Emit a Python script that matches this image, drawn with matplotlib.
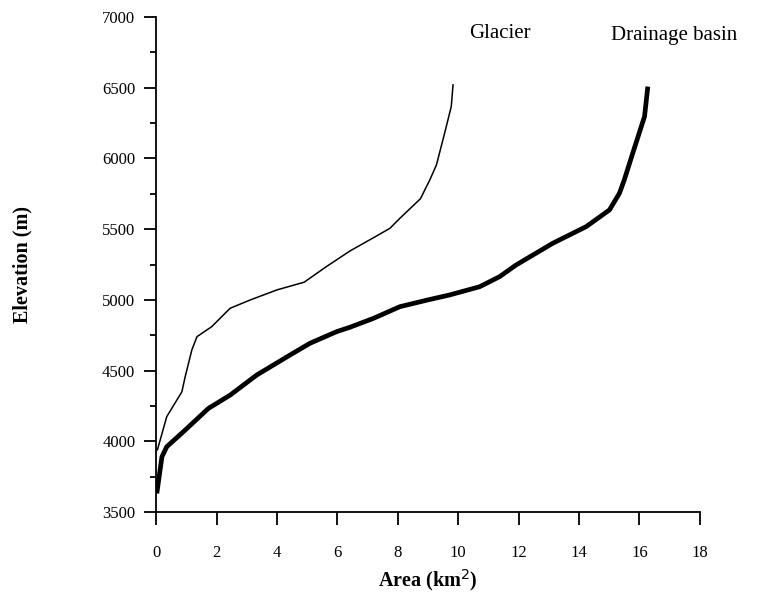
import matplotlib
matplotlib.use("Agg")
import matplotlib.pyplot as plt
from matplotlib.ticker import MultipleLocator

# hypsometric curves
glacier_area = [0.04, 0.35, 0.85, 0.96, 1.18, 1.35, 1.84, 2.45, 3.11, 3.99, 4.9,
                5.6, 6.41, 7.2, 7.74, 8.07, 8.75, 9.06, 9.28, 9.55, 9.77, 9.83]
glacier_elev = [3940, 4175, 4350, 4457, 4646, 4740, 4811, 4941, 4999, 5070, 5125,
                5230, 5345, 5440, 5506, 5577, 5715, 5848, 5954, 6178, 6366, 6520]

basin_area = [0.02, 0.19, 0.35, 0.9, 1.73, 2.45, 3.33, 4.43, 5.09, 5.97, 6.41,
              7.2, 8.07, 9.0, 9.72, 10.71, 11.37, 11.92, 13.13, 14.24, 15.01,
              15.34, 15.5, 15.78, 16.17, 16.28]
basin_elev = [3632, 3891, 3962, 4068, 4233, 4327, 4469, 4610, 4693, 4775, 4806,
              4870, 4952, 5000, 5035, 5093, 5164, 5247, 5400, 5518, 5636,
              5754, 5848, 6037, 6296, 6508]

plt.rcParams['font.family'] = ['Liberation Serif', 'DejaVu Serif']

fig = plt.figure(figsize=(7.81, 6.06), dpi=100)
ax = fig.add_axes([0.2, 0.155, 0.696, 0.817])

ax.plot(glacier_area, glacier_elev, color='black', lw=1.1)
ax.plot(basin_area, basin_elev, color='black', lw=3.4, solid_capstyle='butt')

ax.text(10.35, 6880, 'Glacier', fontsize=15, va='center', ha='left')
ax.text(15.05, 6870, 'Drainage basin', fontsize=15, va='center', ha='left')

ax.set_xlim(0, 18)
ax.set_ylim(3500, 7000)
ax.xaxis.set_major_locator(MultipleLocator(2))
ax.yaxis.set_major_locator(MultipleLocator(500))
ax.yaxis.set_minor_locator(MultipleLocator(250))

for s in ['top', 'right']:
    ax.spines[s].set_visible(False)
for s in ['left', 'bottom']:
    ax.spines[s].set_linewidth(1.3)

ax.tick_params(axis='both', which='major', direction='out', length=9, width=1.3,
               labelsize=12)
ax.tick_params(axis='x', which='major', pad=15)
ax.tick_params(axis='y', which='major', pad=6)
ax.tick_params(axis='y', which='minor', direction='out', length=4, width=1.3)

ax.set_xlabel('Area (km$^2$)', fontsize=14.5, fontweight='bold', labelpad=4)
ax.set_ylabel('Elevation (m)', fontsize=14.5, fontweight='bold', labelpad=50)

fig.savefig('out.png', dpi=100)
